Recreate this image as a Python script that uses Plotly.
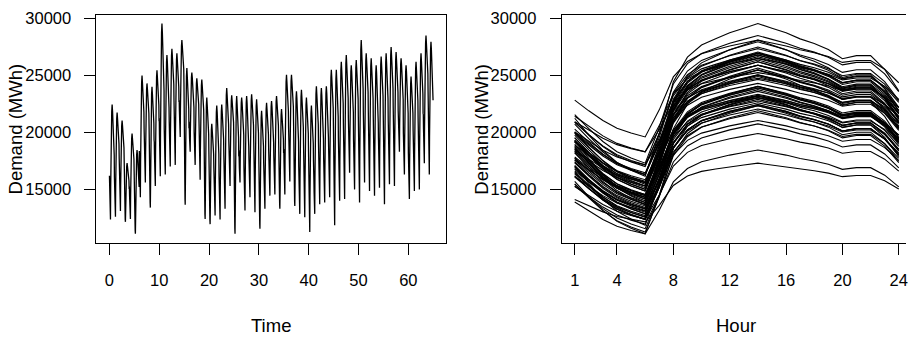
import plotly.graph_objects as go

# ---- data ----
# daily minimum (night trough) and daily maximum (afternoon peak), MWh, days 0..64
day_trough = [12350, 12600, 13100, 12150, 12400, 11100, 14300, 15600, 13400, 15300,
              16150, 16300, 17000, 17150, 19600, 13650, 18300, 17150, 15850, 12400,
              11950, 12700, 12350, 13300, 15300, 11100, 15600, 13150, 14300, 13000,
              11550, 13300, 14450, 14550, 13300, 14550, 15700, 13550, 12850, 12550,
              11250, 12850, 13700, 13850, 14300, 11850, 14000, 14150, 16450, 15000,
              13850, 15600, 14850, 14450, 15150, 13700, 15450, 15300, 18300, 16300,
              14150, 14850, 15000, 17300, 16300]
day_peak = [22450, 21750, 21050, 17300, 19900, 18450, 25000, 24300, 24000, 25450,
            29550, 26800, 27350, 26950, 28100, 25650, 25250, 24750, 24650, 23050,
            20750, 22350, 22450, 23900, 23250, 23200, 23050, 23200, 23350, 22900,
            21900, 22600, 22750, 23200, 22050, 25050, 25050, 23600, 23750, 23050,
            22350, 24050, 23900, 24050, 25500, 25500, 26200, 26800, 25900, 26350,
            28100, 26950, 26500, 25900, 26650, 26950, 27500, 27050, 26500, 25900,
            24900, 26200, 26950, 28500, 27950]
# typical within-day profile (0 = trough, 1 = peak), hours 1..24
hour_profile = [0.38, 0.27, 0.17, 0.09, 0.04, 0.00, 0.28, 0.62, 0.78, 0.86, 0.90, 0.94,
                0.97, 1.00, 0.97, 0.94, 0.90, 0.87, 0.83, 0.77, 0.79, 0.79, 0.70, 0.56]
hours = list(range(1, 25))

time_ticks = [0, 10, 20, 30, 40, 50, 60]
hour_ticks = [1, 4, 8, 12, 16, 20, 24]
demand_ticks = [15000, 20000, 25000, 30000]
demand_labels = ["15000", "20000", "25000", "30000"]

# ---- build series ----
daily_curves = []
for lo, hi in zip(day_trough, day_peak):
    daily_curves.append([lo + (hi - lo) * s for s in hour_profile])

t_all, v_all = [], []
for d, curve in enumerate(daily_curves):
    for h, v in zip(hours, curve):
        t_all.append(d + (h - 1) / 24.0)
        v_all.append(v)

fig = go.Figure()
fig.add_trace(go.Scatter(x=t_all, y=v_all, mode="lines",
                         line=dict(color="black", width=1.3), xaxis="x", yaxis="y",
                         hoverinfo="skip"))
for curve in daily_curves:
    fig.add_trace(go.Scatter(x=hours, y=curve, mode="lines",
                             line=dict(color="black", width=1.1), xaxis="x2", yaxis="y2",
                             hoverinfo="skip"))

W, H = 908, 337
FONT = "Liberation Sans, Arial, sans-serif"
TICK_SIZE = 16.5
TITLE_SIZE = 18.5
ax_common = dict(showgrid=False, zeroline=False, ticks="outside", ticklen=11, tickwidth=1,
                 tickcolor="black", showline=True, linecolor="black", linewidth=1,
                 ticklabeloverflow="allow",
                 tickfont=dict(family=FONT, size=TICK_SIZE, color="black"))

ydom = [(H - 241) / H, (H - 9) / H]
yrange = [10319, 30319]
L1, R1 = 96.7, 447.0
L2, R2 = 563.0, 913.0

fig.update_layout(
    width=W, height=H, margin=dict(l=0, r=0, t=0, b=0),
    paper_bgcolor="white", plot_bgcolor="white", showlegend=False,
    font=dict(family=FONT, size=TITLE_SIZE, color="black"),
    xaxis=dict(domain=[L1 / W, R1 / W], range=[-2.6, 67.56], tickmode="array",
               tickvals=time_ticks, mirror=True, anchor="y", ticklabelstandoff=11, **ax_common),
    yaxis=dict(domain=ydom, range=yrange, tickmode="array", tickvals=demand_ticks,
               ticktext=demand_labels, mirror=True, anchor="x", ticklabelstandoff=10, **ax_common),
    xaxis2=dict(domain=[L2 / W, 1.0], range=[0.08, 0.08 + (W - L2) / 14.12], tickmode="array",
                tickvals=hour_ticks, mirror=True, anchor="y2", ticklabelstandoff=11, **ax_common),
    yaxis2=dict(domain=ydom, range=yrange, tickmode="array", tickvals=demand_ticks,
                ticktext=demand_labels, mirror=False, anchor="x2", ticklabelstandoff=10, **ax_common),
    annotations=[
        dict(text="Time", x=(L1 + R1) / 2 / W, y=(H - 325) / H, xref="paper", yref="paper",
             showarrow=False, xanchor="center", yanchor="middle", font=dict(size=TITLE_SIZE)),
        dict(text="Hour", x=(L2 + R2) / 2 / W, y=(H - 325) / H, xref="paper", yref="paper",
             showarrow=False, xanchor="center", yanchor="middle", font=dict(size=TITLE_SIZE)),
        dict(text="Demand (MWh)", x=(L1 - 81) / W, y=(H - 125) / H, xref="paper", yref="paper",
             showarrow=False, xanchor="center", yanchor="middle", textangle=-90,
             font=dict(size=TITLE_SIZE)),
        dict(text="Demand (MWh)", x=(L2 - 80) / W, y=(H - 125) / H, xref="paper", yref="paper",
             showarrow=False, xanchor="center", yanchor="middle", textangle=-90,
             font=dict(size=TITLE_SIZE)),
    ],
)

fig.write_html("out.html", config={"displayModeBar": False},
               post_script="document.body.style.margin='0';document.body.style.overflow='hidden';")
